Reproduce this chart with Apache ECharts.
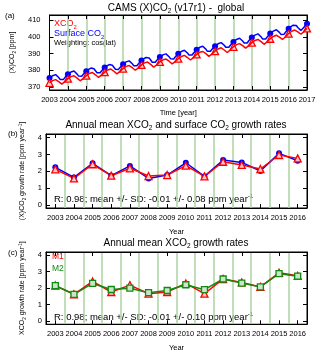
<!DOCTYPE html>
<html>
<head>
<meta charset="utf-8">
<script src="https://cdn.jsdelivr.net/npm/echarts@6/dist/echarts.min.js"></script>
<style>
html, body { margin: 0; padding: 0; background: #fff; }
#chart { width: 320px; height: 354px; }
</style>
</head>
<body>
<div id="chart"></div>
<script>
// ==============================================================
// data
// ==============================================================
var years = ['2003','2004','2005','2006','2007','2008','2009','2010','2011','2012','2013','2014','2015','2016'];
var startYear = 2003;

// monthly global means, Jan 2003 ... Jan 2017 [ppm]
var surfaceCO2 = [
    375.3, 376.1, 376.7, 377.2, 377.4, 376.9, 375.7, 374.4, 373.8, 374.4, 375.6, 376.7,
    377.6, 378.4, 378.9, 379.4, 379.5, 379.0, 377.7, 376.5, 375.8, 376.4, 377.5, 378.6,
    379.4, 380.2, 380.8, 381.3, 381.4, 380.9, 379.7, 378.5, 377.9, 378.5, 379.6, 380.7,
    381.6, 382.4, 382.9, 383.4, 383.6, 383.0, 381.8, 380.6, 379.9, 380.5, 381.7, 382.7,
    383.6, 384.4, 385.0, 385.5, 385.6, 385.1, 383.9, 382.7, 382.1, 382.7, 383.8, 384.9,
    385.8, 386.6, 387.2, 387.6, 387.8, 387.3, 386.1, 384.8, 384.2, 384.8, 386.0, 387.0,
    387.9, 388.7, 389.2, 389.7, 389.8, 389.3, 388.1, 386.8, 386.2, 386.7, 387.9, 388.9,
    389.8, 390.6, 391.2, 391.7, 391.9, 391.4, 390.3, 389.1, 388.5, 389.1, 390.3, 391.4,
    392.3, 393.1, 393.7, 394.1, 394.3, 393.8, 392.6, 391.3, 390.7, 391.3, 392.5, 393.5,
    394.4, 395.2, 395.8, 396.3, 396.5, 396.0, 394.9, 393.7, 393.1, 393.7, 394.9, 396.0,
    396.9, 397.7, 398.4, 398.9, 399.1, 398.6, 397.5, 396.3, 395.7, 396.3, 397.6, 398.7,
    399.6, 400.4, 401.0, 401.5, 401.7, 401.2, 400.0, 398.7, 398.1, 398.7, 399.9, 401.0,
    401.9, 402.7, 403.4, 403.9, 404.2, 403.7, 402.6, 401.4, 400.8, 401.5, 402.7, 403.9,
    404.8, 405.7, 406.3, 406.9, 407.1, 406.7, 405.5, 404.4, 403.8, 404.5, 405.7, 406.9,
    407.8
];
var xco2 = [
    372.5, 373.2, 373.8, 374.2, 374.4, 374.0, 373.2, 372.2, 371.7, 372.2, 373.2, 374.2,
    375.0, 375.7, 376.2, 376.6, 376.7, 376.3, 375.3, 374.3, 373.7, 374.2, 375.1, 376.1,
    376.8, 377.5, 378.1, 378.4, 378.6, 378.2, 377.3, 376.2, 375.7, 376.2, 377.2, 378.1,
    378.9, 379.6, 380.2, 380.5, 380.7, 380.3, 379.4, 378.3, 377.8, 378.3, 379.3, 380.2,
    381.0, 381.7, 382.3, 382.7, 382.8, 382.4, 381.5, 380.5, 380.0, 380.5, 381.4, 382.4,
    383.2, 383.9, 384.4, 384.8, 384.9, 384.5, 383.5, 382.5, 381.9, 382.4, 383.3, 384.3,
    385.0, 385.7, 386.2, 386.6, 386.7, 386.3, 385.4, 384.3, 383.8, 384.2, 385.2, 386.1,
    386.9, 387.6, 388.2, 388.7, 388.9, 388.5, 387.6, 386.6, 386.1, 386.7, 387.7, 388.7,
    389.5, 390.2, 390.7, 391.1, 391.2, 390.8, 389.9, 388.8, 388.3, 388.7, 389.7, 390.6,
    391.4, 392.1, 392.7, 393.2, 393.4, 393.0, 392.1, 391.1, 390.6, 391.2, 392.2, 393.2,
    394.0, 394.7, 395.3, 395.7, 395.9, 395.5, 394.7, 393.7, 393.2, 393.7, 394.7, 395.7,
    396.5, 397.2, 397.8, 398.2, 398.4, 398.0, 397.1, 396.0, 395.5, 396.0, 397.0, 398.0,
    398.8, 399.6, 400.2, 400.7, 400.9, 400.6, 399.8, 398.8, 398.4, 398.9, 400.0, 401.0,
    401.9, 402.7, 403.3, 403.8, 404.0, 403.7, 402.9, 401.9, 401.5, 402.0, 403.1, 404.1,
    405.0
];

// annual mean growth rates [ppm/year]
var surfaceRate = [2.24, 1.64, 2.48, 1.74, 2.32, 1.58, 1.78, 2.51, 1.70, 2.67, 2.53, 2.02, 3.07, 2.63];
var xco2Rate    = [2.12, 1.58, 2.42, 1.74, 2.18, 1.72, 1.78, 2.34, 1.70, 2.57, 2.38, 2.14, 2.97, 2.77];
var m1Rate      = [2.15, 1.62, 2.40, 1.76, 2.18, 1.66, 1.76, 2.28, 1.66, 2.55, 2.34, 2.07, 2.93, 2.74];
var m2Rate      = [2.15, 1.62, 2.28, 1.91, 1.99, 1.72, 1.85, 2.20, 1.90, 2.55, 2.30, 2.07, 2.87, 2.72];

var ppmTicks  = [370, 380, 390, 400, 410];
var rateTicks = [0, 1, 2, 3, 4];

// ==============================================================
// helpers
// ==============================================================
var FONT = 'Liberation Sans, Arial, Helvetica, sans-serif';
var BLUE = '#0000ff', RED = '#ff0000', GREEN = '#118a11', GRID_GREEN = '#aed3a2';

function rich(size) {
    return {
        s: { fontSize: size * 0.65, lineHeight: size * 0.6, verticalAlign: 'bottom', fontFamily: FONT },
        u: { fontSize: size * 0.65, lineHeight: size * 0.6, verticalAlign: 'top', fontFamily: FONT }
    };
}

function txt(size, color) {
    return { fontSize: size, color: color || '#000', fontFamily: FONT, fontWeight: 'normal', lineHeight: size * 1.3, rich: rich(size) };
}

var tick = { show: true, inside: true, length: 4, lineStyle: { color: '#000', width: 1 } };
var line = { show: true, onZero: false, lineStyle: { color: '#000', width: 1 } };
var greenSplit = { show: true, showMinLine: false, showMaxLine: false, lineStyle: { color: GRID_GREEN, width: 1.5 } };

function timePoints(values) {
    return values.map(function (v, i) { return [startYear + i / 12, v]; });
}
function janPoints(values) {
    return timePoints(values).filter(function (p, i) { return i % 12 === 0; });
}

function rateX(grid, name) {
    return {
        type: 'category', gridIndex: grid, data: years, boundaryGap: true,
        axisLine: line, axisTick: { show: true, inside: true, length: 4, alignWithLabel: true, lineStyle: { color: '#000' } },
        axisLabel: { interval: 0, fontSize: 7.5, margin: 6, color: '#000', fontFamily: FONT },
        splitLine: greenSplit,
        name: name, nameLocation: 'middle', nameGap: 19, nameTextStyle: txt(7.5)
    };
}
function rateXTop(grid) {
    return {
        type: 'category', gridIndex: grid, data: years, boundaryGap: true, position: 'top',
        axisLine: line, axisTick: { show: true, inside: true, length: 4, alignWithLabel: true, lineStyle: { color: '#000' } },
        axisLabel: { show: false }, splitLine: { show: false }
    };
}
function rateY(grid, name, min, max) {
    return {
        type: 'value', gridIndex: grid, min: min, max: max,
        axisLine: line,
        axisTick: { show: true, inside: true, length: 4, customValues: rateTicks, lineStyle: { color: '#000' } },
        axisLabel: { customValues: rateTicks, fontSize: 7.5, margin: 4, color: '#000', fontFamily: FONT },
        splitLine: { show: false },
        name: name, nameLocation: 'middle', nameGap: 19, nameTextStyle: txt(7)
    };
}
function rateYRight(grid, min, max) {
    return {
        type: 'value', gridIndex: grid, min: min, max: max, position: 'right',
        axisLine: line,
        axisTick: { show: true, inside: true, length: 4, customValues: rateTicks, lineStyle: { color: '#000' } },
        axisLabel: { show: false }, splitLine: { show: false }
    };
}

var myChart = echarts.init(document.getElementById('chart'));

option = {
    animation: false,
    backgroundColor: '#fff',
    textStyle: { fontFamily: FONT },
    title: [
        { text: 'CAMS (X)CO{s|2} (v17r1) -  global', left: 176, top: 2, padding: 0, textAlign: 'center', textStyle: txt(10) },
        { text: 'Annual mean XCO{s|2} and surface CO{s|2} growth rates', left: 176, top: 119, padding: 0, textAlign: 'center', textStyle: txt(10) },
        { text: 'Annual mean XCO{s|2} growth rates', left: 176, top: 237, padding: 0, textAlign: 'center', textStyle: txt(10) }
    ],
    grid: [
        { left: 46, top: 15, width: 261, height: 75, show: true, borderColor: '#000', borderWidth: 1 },
        { left: 46, top: 134, width: 261, height: 74, show: true, borderColor: '#000', borderWidth: 1 },
        { left: 46, top: 252, width: 261, height: 75, show: true, borderColor: '#000', borderWidth: 1 }
    ],
    xAxis: [
        {
            type: 'value', gridIndex: 0, min: 2003, max: 2017, interval: 1,
            axisLine: line, axisTick: tick,
            axisLabel: { fontSize: 7.5, margin: 6, color: '#000', fontFamily: FONT, formatter: function (v) { return String(v); } },
            splitLine: greenSplit,
            name: 'Time [year]', nameLocation: 'middle', nameGap: 18, nameTextStyle: txt(7.5)
        },
        {
            type: 'value', gridIndex: 0, min: 2003, max: 2017, interval: 1, position: 'top',
            axisLine: line, axisTick: tick, axisLabel: { show: false }, splitLine: { show: false }
        },
        rateX(1, 'Year'), rateXTop(1),
        rateX(2, 'Year'), rateXTop(2)
    ],
    yAxis: [
        {
            type: 'value', gridIndex: 0, min: 368.2, max: 413,
            axisLine: line,
            axisTick: { show: true, inside: true, length: 4, customValues: ppmTicks, lineStyle: { color: '#000' } },
            axisLabel: { customValues: ppmTicks, fontSize: 7.5, margin: 9, color: '#000', fontFamily: FONT },
            splitLine: { show: false },
            name: '(X)CO{s|2} [ppm]', nameLocation: 'middle', nameGap: 20, nameTextStyle: txt(7)
        },
        {
            type: 'value', gridIndex: 0, min: 368.2, max: 413, position: 'right',
            axisLine: line,
            axisTick: { show: true, inside: true, length: 4, customValues: ppmTicks, lineStyle: { color: '#000' } },
            axisLabel: { show: false }, splitLine: { show: false }
        },
        rateY(1, '(X)CO{s|2} growth rate [ppm year{u|-1}]', -0.18, 4.22), rateYRight(1, -0.18, 4.22),
        rateY(2, 'XCO{s|2} growth rate [ppm year{u|-1}]', -0.2, 4.19), rateYRight(2, -0.2, 4.19)
    ],
    graphic: [
        { type: 'text', left: 5, top: 12, style: { text: '(a)', fontSize: 8, fill: '#000', fontFamily: FONT } },
        { type: 'text', left: 8, top: 130, style: { text: '(b)', fontSize: 8, fill: '#000', fontFamily: FONT } },
        { type: 'text', left: 8, top: 249, style: { text: '(c)', fontSize: 8, fill: '#000', fontFamily: FONT } },
        { type: 'text', left: 54, top: 18, style: { text: 'XCO{s|2}', fontSize: 9, fill: RED, fontFamily: FONT, lineHeight: 12, rich: rich(9) } },
        { type: 'text', left: 54, top: 28, style: { text: 'Surface CO{s|2}', fontSize: 9, fill: BLUE, fontFamily: FONT, lineHeight: 12, rich: rich(9) } },
        { type: 'text', left: 54, top: 39, style: { text: 'Weighting: cos(lat)', fontSize: 7.5, fill: '#000', fontFamily: FONT } },
        { type: 'text', left: 54, top: 193, style: { text: 'R: 0.98; mean +/- SD: -0.01 +/- 0.08 ppm year{u|-1}', fontSize: 9.5, fill: '#000', fontFamily: FONT, lineHeight: 12, rich: rich(9.5) } },
        { type: 'text', left: 54, top: 311, style: { text: 'R: 0.98; mean +/- SD: -0.01 +/- 0.10 ppm year{u|-1}', fontSize: 9.5, fill: '#000', fontFamily: FONT, lineHeight: 12, rich: rich(9.5) } },
        { type: 'text', left: 52, top: 252, style: { text: 'M1', fontSize: 8.5, fill: RED, fontFamily: FONT } },
        { type: 'text', left: 52, top: 264, style: { text: 'M2', fontSize: 8.5, fill: GREEN, fontFamily: FONT } }
    ],
    series: [
        // (a) monthly time series
        { type: 'line', xAxisIndex: 0, yAxisIndex: 0, data: timePoints(surfaceCO2), showSymbol: false, symbol: 'none',
          lineStyle: { color: BLUE, width: 1.5 }, itemStyle: { color: BLUE } },
        { type: 'line', xAxisIndex: 0, yAxisIndex: 0, data: timePoints(xco2), showSymbol: false, symbol: 'none',
          lineStyle: { color: RED, width: 1.5 }, itemStyle: { color: RED } },
        { type: 'scatter', xAxisIndex: 0, yAxisIndex: 0, data: janPoints(surfaceCO2), symbol: 'circle', symbolSize: 6,
          itemStyle: { color: BLUE, opacity: 1 } },
        { type: 'scatter', xAxisIndex: 0, yAxisIndex: 0, data: janPoints(xco2), symbol: 'triangle', symbolSize: 7,
          itemStyle: { color: '#ffd6d6', borderColor: RED, borderWidth: 1.3, opacity: 1 } },
        // (b) growth rates
        { type: 'line', xAxisIndex: 2, yAxisIndex: 2, data: surfaceRate, symbol: 'circle', symbolSize: 6,
          lineStyle: { color: BLUE, width: 1.5 }, itemStyle: { color: BLUE } },
        { type: 'line', xAxisIndex: 2, yAxisIndex: 2, data: xco2Rate, symbol: 'triangle', symbolSize: 7,
          lineStyle: { color: RED, width: 1.5 }, itemStyle: { color: '#ffc8c8', borderColor: RED, borderWidth: 1.3 } },
        // (c) growth rates M1 / M2
        { type: 'line', xAxisIndex: 4, yAxisIndex: 4, data: m1Rate, symbol: 'triangle', symbolSize: 7,
          lineStyle: { color: RED, width: 1.5 }, itemStyle: { color: '#ffc8c8', borderColor: RED, borderWidth: 1.3 } },
        { type: 'line', xAxisIndex: 4, yAxisIndex: 4, data: m2Rate, symbol: 'rect', symbolSize: 6,
          lineStyle: { color: GREEN, width: 1.5 }, itemStyle: { color: '#c8e6c8', borderColor: GREEN, borderWidth: 1.3 } }
    ]
};

myChart.setOption(option, true);
</script>
</body>
</html>
